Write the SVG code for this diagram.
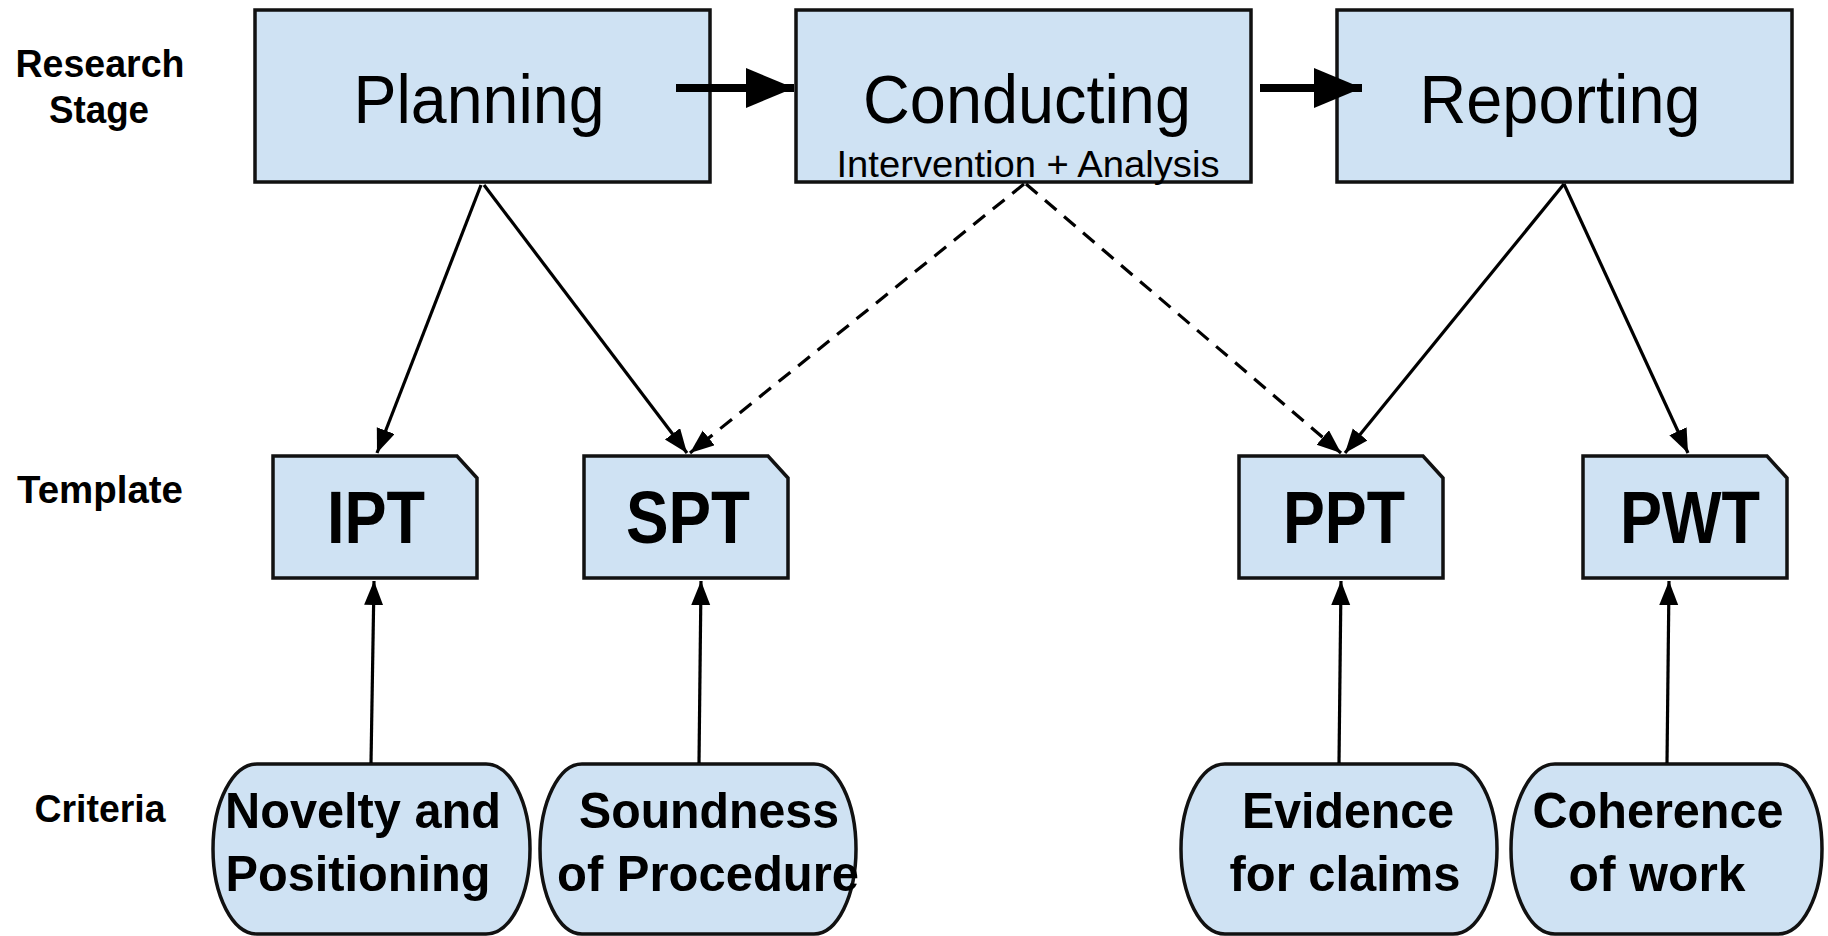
<svg xmlns="http://www.w3.org/2000/svg" width="1828" height="936" viewBox="0 0 1828 936">
  <style>
    .box { fill: #cfe2f3; stroke: #111; stroke-width: 3.5; }
    .lbl { font-family: "Liberation Sans", Arial, sans-serif; fill: #000; text-anchor: middle; }
    .stage { font-size: 68px; }
    .sub { font-size: 37px; }
    .tpl { font-size: 74px; font-weight: bold; }
    .crit { font-size: 50px; font-weight: bold; }
    .row { font-size: 38px; font-weight: bold; }
    .thin { stroke: #000; stroke-width: 3.2; fill: none; marker-end: url(#head); }
    .dash { stroke-dasharray: 15 10; }
    .thick { stroke: #000; stroke-width: 8; fill: none; marker-end: url(#bighead); }
  </style>
  <defs>
    <marker id="head" markerUnits="userSpaceOnUse" markerWidth="26" markerHeight="20" refX="24" refY="9.5" orient="auto">
      <path d="M0,0 L24,9.5 L0,19 Z" fill="#000"/>
    </marker>
    <marker id="bighead" markerUnits="userSpaceOnUse" markerWidth="50" markerHeight="42" refX="48" refY="20" orient="auto">
      <path d="M0,0 L48,20 L0,40 Z" fill="#000"/>
    </marker>
  </defs>

  <rect width="1828" height="936" fill="#fff"/>

  <!-- row labels -->
  <g id="row-labels">
    <text class="lbl row" x="100" y="77" textLength="169" lengthAdjust="spacingAndGlyphs">Research</text>
    <text class="lbl row" x="99" y="123" textLength="100" lengthAdjust="spacingAndGlyphs">Stage</text>
    <text class="lbl row" x="100" y="503" textLength="166" lengthAdjust="spacingAndGlyphs">Template</text>
    <text class="lbl row" x="100" y="822" textLength="131" lengthAdjust="spacingAndGlyphs">Criteria</text>
  </g>

  <!-- research stages -->
  <g id="planning">
    <rect class="box" x="255" y="10" width="455" height="172"/>
    <text class="lbl stage" x="479" y="123" textLength="251" lengthAdjust="spacingAndGlyphs">Planning</text>
  </g>
  <g id="conducting">
    <rect class="box" x="796" y="10" width="455" height="172"/>
    <text class="lbl stage" x="1027" y="123" textLength="328" lengthAdjust="spacingAndGlyphs">Conducting</text>
    <text class="lbl sub" x="1028" y="177" textLength="383" lengthAdjust="spacingAndGlyphs">Intervention + Analysis</text>
  </g>
  <g id="reporting">
    <rect class="box" x="1337" y="10" width="455" height="172"/>
    <text class="lbl stage" x="1560" y="123" textLength="281" lengthAdjust="spacingAndGlyphs">Reporting</text>
  </g>

  <!-- templates -->
  <g id="ipt">
    <path class="box" d="M273,456 H457 L477,478 V578 H273 Z"/>
    <text class="lbl tpl" x="376" y="543" textLength="98" lengthAdjust="spacingAndGlyphs">IPT</text>
  </g>
  <g id="spt">
    <path class="box" d="M584,456 H768 L788,478 V578 H584 Z"/>
    <text class="lbl tpl" x="688" y="543" textLength="124" lengthAdjust="spacingAndGlyphs">SPT</text>
  </g>
  <g id="ppt">
    <path class="box" d="M1239,456 H1423 L1443,478 V578 H1239 Z"/>
    <text class="lbl tpl" x="1344" y="543" textLength="122" lengthAdjust="spacingAndGlyphs">PPT</text>
  </g>
  <g id="pwt">
    <path class="box" d="M1583,456 H1767 L1787,478 V578 H1583 Z"/>
    <text class="lbl tpl" x="1690" y="543" textLength="140" lengthAdjust="spacingAndGlyphs">PWT</text>
  </g>

  <!-- criteria -->
  <g id="novelty">
    <rect class="box" x="213" y="764" width="317" height="170" rx="44" ry="85"/>
    <text class="lbl crit" x="363" y="828" textLength="276" lengthAdjust="spacingAndGlyphs">Novelty and</text>
    <text class="lbl crit" x="358" y="891" textLength="265" lengthAdjust="spacingAndGlyphs">Positioning</text>
  </g>
  <g id="soundness">
    <rect class="box" x="540" y="764" width="316" height="170" rx="42" ry="85"/>
    <text class="lbl crit" x="709" y="828" textLength="260" lengthAdjust="spacingAndGlyphs">Soundness</text>
    <text class="lbl crit" x="708" y="891" textLength="302" lengthAdjust="spacingAndGlyphs">of Procedure</text>
  </g>
  <g id="evidence">
    <rect class="box" x="1181" y="764" width="316" height="170" rx="44" ry="85"/>
    <text class="lbl crit" x="1348" y="828" textLength="212" lengthAdjust="spacingAndGlyphs">Evidence</text>
    <text class="lbl crit" x="1345" y="891" textLength="231" lengthAdjust="spacingAndGlyphs">for claims</text>
  </g>
  <g id="coherence">
    <rect class="box" x="1511" y="764" width="311" height="170" rx="44" ry="85"/>
    <text class="lbl crit" x="1658" y="828" textLength="251" lengthAdjust="spacingAndGlyphs">Coherence</text>
    <text class="lbl crit" x="1657" y="891" textLength="177" lengthAdjust="spacingAndGlyphs">of work</text>
  </g>

  <!-- connectors -->
  <g id="connectors">
    <line class="thick" x1="676" y1="88" x2="794" y2="88"/>
    <line class="thick" x1="1260" y1="88" x2="1362" y2="88"/>

    <line class="thin" x1="481" y1="185" x2="377" y2="453"/>
    <line class="thin" x1="484" y1="185" x2="687" y2="453"/>
    <line class="thin dash" x1="1024" y1="184" x2="690" y2="453"/>
    <line class="thin dash" x1="1026" y1="184" x2="1341" y2="453"/>
    <line class="thin" x1="1564" y1="184" x2="1345" y2="453"/>
    <line class="thin" x1="1564" y1="184" x2="1688" y2="453"/>

    <line class="thin" x1="371" y1="763" x2="374" y2="581"/>
    <line class="thin" x1="699" y1="763" x2="701" y2="581"/>
    <line class="thin" x1="1339" y1="763" x2="1341" y2="581"/>
    <line class="thin" x1="1667" y1="763" x2="1669" y2="581"/>
  </g>
</svg>
